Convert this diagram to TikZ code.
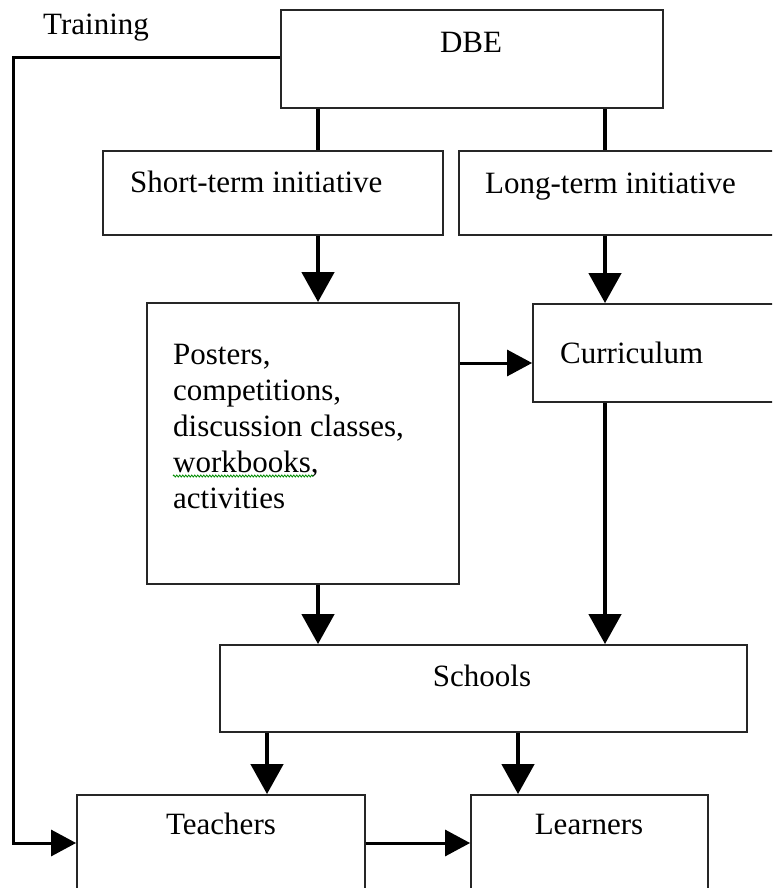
\documentclass[tikz,border=0pt]{standalone}
\usepackage{fontspec}
\setmainfont{Liberation Serif}
\usetikzlibrary{arrows.meta,decorations.pathmorphing}

\tikzset{
  box/.style={draw=black!85, line width=1.8pt, inner sep=0pt, fill=white},
  txt/.style={font=\fontsize{31}{37}\selectfont, inner sep=0pt},
  stem/.style={line width=4.5pt},
  link/.style={line width=4.5pt, -{Triangle[length=30pt,width=32pt]}},
  feed/.style={line width=3pt, -{Triangle[length=25pt,width=26pt]}}
}

\begin{document}
\begin{tikzpicture}[x=1pt,y=1pt,yscale=-1,xscale=1]
\useasboundingbox (0,0) rectangle (772,888);
\clip (0,0) rectangle (772,888);

%Shape: Rectangle [boxes]
\node[box, minimum width=382pt, minimum height=98pt] (dbe) at (472,59) {};
\node[box, minimum width=340pt, minimum height=84pt] (st) at (273,193) {};
\node[box, minimum width=331pt, minimum height=84pt] (lt) at (624.5,193) {};
\node[box, minimum width=312pt, minimum height=281pt] (posters) at (303,443.5) {};
\node[box, minimum width=257pt, minimum height=98pt] (curr) at (661.5,353) {};
\node[box, minimum width=527pt, minimum height=87pt] (schools) at (483.5,688.5) {};
\node[box, minimum width=288pt, minimum height=110pt] (teachers) at (221,850) {};
\node[box, minimum width=237pt, minimum height=110pt] (learners) at (589.5,850) {};

% Text Node
\node[txt, anchor=base west] (ttrain) at (43,35) {Training};
\node[txt, anchor=base] (tdbe) at (471,53) {DBE};
\node[txt, anchor=base west] (tst) at (130,192) {Short-term initiative};
\node[txt, anchor=base west] (tlt) at (485,193) {Long-term initiative};
\node[txt, anchor=base west] (tcurr) at (560,363) {Curriculum};
\node[txt, anchor=base] (tsch) at (482,686) {Schools};
\node[txt, anchor=base] (tteach) at (221,834) {Teachers};
\node[txt, anchor=base] (tlearn) at (589,834) {Learners};
\foreach \t [count=\i] in {{Posters,}, {competitions,}, {discussion classes,}, {workbooks,}, {activities}}
  \node[txt, anchor=base west] (p\i) at (173,328+36*\i) {\t};
\draw[green!55!black, line width=0.8pt, decorate, decoration={zigzag, amplitude=1pt, segment length=3pt}]
  ([yshift=4pt]p4.base west) -- ([yshift=4pt,xshift=-5pt]p4.base east);

% helper coordinates
\coordinate (xl) at (318,0);
\coordinate (xr) at (605,0);
\coordinate (xt) at (267,0);
\coordinate (xs) at (518,0);
\coordinate (xtr) at (13,0);
\coordinate (ytr) at (0,58);
\coordinate (yc) at (0,363);
\coordinate (yt) at (0,843);

%Straight Lines
\draw[stem] (dbe.south -| xl) -- (st.north -| xl);
\draw[stem] (dbe.south -| xr) -- (lt.north -| xr);
\draw[link] (st.south -| xl) -- (posters.north -| xl);
\draw[link] (lt.south -| xr) -- (curr.north -| xr);
\draw[link] (posters.south -| xl) -- (schools.north -| xl);
\draw[link] (curr.south -| xr) -- (schools.north -| xr);
\draw[link] (schools.south -| xt) -- (teachers.north -| xt);
\draw[link] (schools.south -| xs) -- (learners.north -| xs);
\draw[feed] (posters.east |- yc) -- (curr.west |- yc);
\draw[feed] (teachers.east |- yt) -- (learners.west |- yt);
\draw[feed] (dbe.west |- ytr) -- (xtr |- ytr) -- (xtr |- yt) -- (teachers.west |- yt);

\end{tikzpicture}
\end{document}
